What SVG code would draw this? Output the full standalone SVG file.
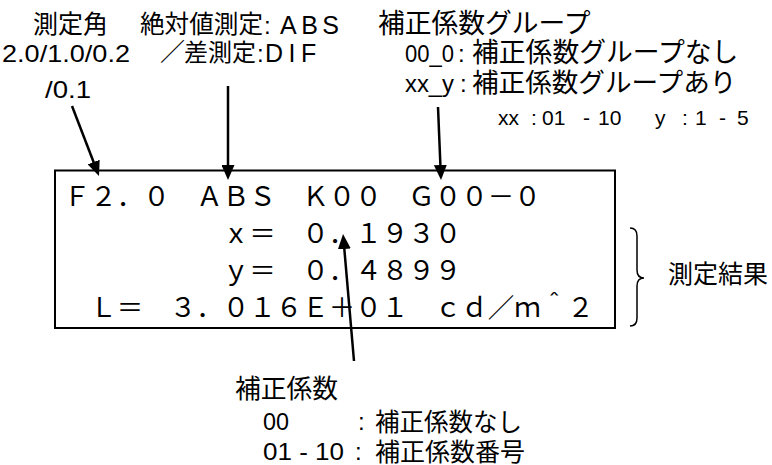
<svg xmlns="http://www.w3.org/2000/svg" width="772" height="465" viewBox="0 0 772 465">
<defs>
<style>
.lbl{font-family:"Liberation Sans","Noto Sans CJK JP",sans-serif;font-size:24px;fill:#000}
.jp{font-family:"Noto Sans CJK JP","Liberation Sans",sans-serif;font-size:25px;fill:#000}
.sm{font-family:"Liberation Sans","Noto Sans CJK JP",sans-serif;font-size:21px;fill:#000}
.mono{font-family:"Noto Sans CJK JP",sans-serif;font-size:26.5px;fill:#000}
.conn{stroke:#000;stroke-width:2.5;fill:none;marker-end:url(#ah)}
</style>
<marker id="ah" markerUnits="userSpaceOnUse" viewBox="0 0 15 13" markerWidth="15" markerHeight="13" refX="5" refY="6.5" orient="auto">
<path d="M0,0 L15,6.5 L0,13 z" fill="#000"/>
</marker>
</defs>
<rect width="772" height="465" fill="#fff"/>

<g id="angle-label">
<text class="jp" x="33" y="33">測定角</text>
<text class="lbl" x="2" y="62" textLength="128" lengthAdjust="spacingAndGlyphs">2.0/1.0/0.2</text>
<text class="lbl" x="45" y="98" textLength="46" lengthAdjust="spacingAndGlyphs">/0.1</text>
</g>

<g id="mode-label">
<text class="jp" x="140" y="33" style="font-size:24.6px">絶対値測定</text>
<text class="lbl" x="264" y="34">:</text>
<text class="lbl" x="280" y="34" style="font-size:25px;letter-spacing:4.5px">ABS</text>
<text class="jp" x="160" y="61">／</text>
<text class="jp" x="184" y="61" style="font-size:24px">差測定</text>
<text class="lbl" x="257" y="62">:</text>
<text class="lbl" x="265" y="62" style="font-size:25px;letter-spacing:5.5px">DIF</text>
</g>

<g id="group-label">
<text class="jp" x="378" y="33" style="font-size:26.75px">補正係数グループ</text>
<text class="lbl" x="405" y="62" textLength="49" lengthAdjust="spacingAndGlyphs">00_0</text>
<text class="lbl" x="458" y="62">:</text>
<text class="jp" x="472" y="62" style="font-size:26.8px">補正係数グループなし</text>
<text class="lbl" x="405" y="92" textLength="49" lengthAdjust="spacingAndGlyphs">xx_y</text>
<text class="lbl" x="460" y="92">:</text>
<text class="jp" x="472" y="92" style="font-size:26.6px">補正係数グループあり</text>
<text class="sm" y="125"><tspan x="498">xx</tspan><tspan x="531">:</tspan><tspan x="542">01</tspan><tspan x="583">-</tspan><tspan x="598">10</tspan><tspan x="655">y</tspan><tspan x="682">:</tspan><tspan x="695">1</tspan><tspan x="719">-</tspan><tspan x="737">5</tspan></text>
</g>

<g id="display">
<rect x="55" y="170.5" width="560" height="157.5" fill="none" stroke="#000" stroke-width="2"/>
<text class="mono" x="63.75" y="206">Ｆ２．０　ＡＢＳ　Ｋ００　Ｇ００－０</text>
<text class="mono" x="222.75" y="243">ｘ＝　０．１９３０</text>
<text class="mono" x="222.75" y="280">ｙ＝　０．４８９９</text>
<text class="mono" x="90.25" y="317">Ｌ＝　３．０１６Ｅ＋０１　ｃｄ／ｍ＾２</text>
</g>

<g id="result-label">
<path d="M630,228 Q637,228 637,236 L637,270 Q637,278 644,278 Q637,278 637,286 L637,318 Q637,326 630,326" fill="none" stroke="#000" stroke-width="1.5"/>
<text class="jp" x="668" y="283">測定結果</text>
</g>

<g id="coef-label">
<text class="jp" x="235" y="398" style="font-size:25.75px">補正係数</text>
<text class="lbl" x="263" y="430" textLength="26" lengthAdjust="spacingAndGlyphs">00</text>
<text class="lbl" x="358" y="430">:</text>
<text class="jp" x="375" y="431" style="font-size:24.5px">補正係数なし</text>
<text class="lbl" x="263" y="460" textLength="81" lengthAdjust="spacingAndGlyphs">01 - 10</text>
<text class="lbl" x="355" y="460">:</text>
<text class="jp" x="375" y="461">補正係数番号</text>
</g>

<g id="connectors">
<line class="conn" x1="72" y1="106" x2="95.4" y2="166.7"/>
<line class="conn" x1="228" y1="86" x2="228" y2="170"/>
<line class="conn" x1="438" y1="107" x2="440.6" y2="170"/>
<line class="conn" x1="354" y1="361" x2="343.9" y2="244"/>
</g>
</svg>
